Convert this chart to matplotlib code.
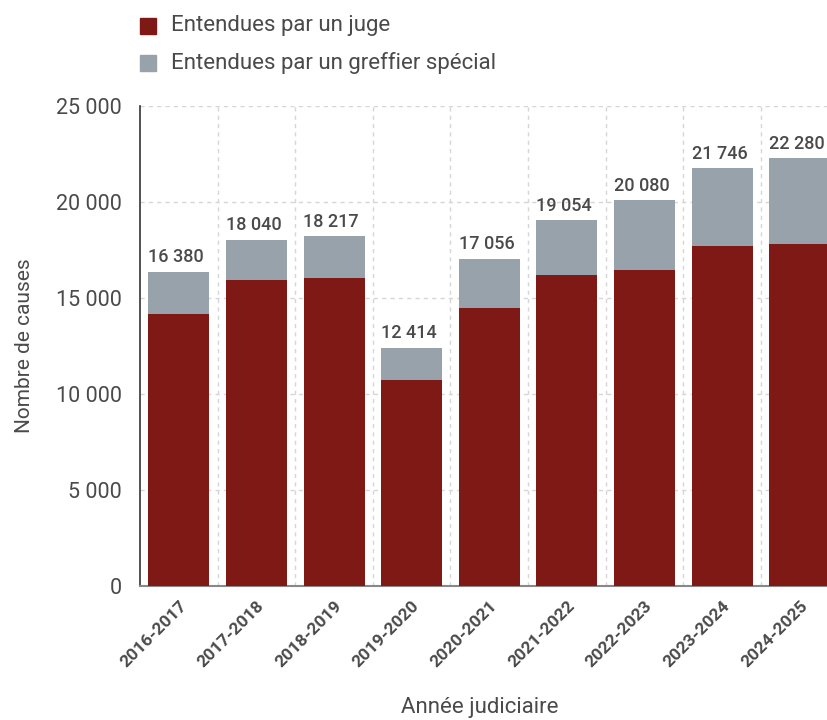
import matplotlib
matplotlib.use("Agg")
import matplotlib.pyplot as plt
from matplotlib.ticker import FixedLocator, FuncFormatter
from matplotlib.patches import Rectangle

years = ["2016-2017", "2017-2018", "2018-2019", "2019-2020", "2020-2021",
         "2021-2022", "2022-2023", "2023-2024", "2024-2025"]
totals = [16380, 18040, 18217, 12414, 17056, 19054, 20080, 21746, 22280]
juge = [14150, 15950, 16050, 10730, 14500, 16200, 16450, 17700, 17800]
greffier = [t - j for t, j in zip(totals, juge)]
legend_labels = ["Entendues par un juge", "Entendues par un greffier spécial"]

RED = "#7f1916"
GRAY = "#98a2aa"
TXT = "#4a4a4a"
FAM = ["Roboto", "DejaVu Sans"]

fig = plt.figure(figsize=(8.28, 7.2), dpi=100)
ax = fig.add_axes([140/828, 1-586/720, (838.6-140)/828, (586-106)/720])

x = list(range(len(years)))
ax.bar(x, juge, width=0.785, color=RED, zorder=3)
ax.bar(x, greffier, bottom=juge, width=0.785, color=GRAY, zorder=3)

for xi, t in zip(x, totals):
    ax.annotate(f"{t:,}".replace(",", " "), (xi, t), xytext=(-2, 4),
                textcoords="offset points", ha="center", va="bottom",
                fontsize=13, fontweight="medium", color=TXT, family=FAM)

ax.set_xlim(-0.5, 8.5)
ax.set_ylim(0, 25000)
ax.yaxis.set_major_locator(FixedLocator([0, 5000, 10000, 15000, 20000, 25000]))
ax.yaxis.set_major_formatter(FuncFormatter(lambda v, p: f"{int(v):,}".replace(",", " ")))
ax.set_xticks(x)
ax.set_xticklabels(years, rotation=45, ha="right", rotation_mode="anchor",
                   fontsize=12.5, fontweight="bold", color=TXT, family=FAM)
ax.tick_params(axis="x", length=0, pad=9)
ax.tick_params(axis="y", length=0, pad=13, labelsize=15.5, labelcolor=TXT)
for lbl in ax.get_yticklabels():
    lbl.set_family(FAM)

ax.xaxis.set_minor_locator(FixedLocator([i + 0.5 for i in range(8)]))
ax.grid(axis="y", which="major", color="#d6d6d6", linestyle=(0, (3, 3)), linewidth=1, zorder=0)
ax.grid(axis="x", which="minor", color="#d6d6d6", linestyle=(0, (3, 3)), linewidth=1, zorder=0)
ax.tick_params(axis="x", which="minor", length=0)

for s in ["top", "right"]:
    ax.spines[s].set_visible(False)
ax.spines["left"].set_color("#333333")
ax.spines["left"].set_linewidth(1.2)
ax.spines["bottom"].set_color("#888888")
ax.spines["bottom"].set_linewidth(1.5)

ax.set_ylabel("Nombre de causes", fontsize=15, color=TXT, family=FAM)
ax.yaxis.set_label_coords(-0.152, 0.5)
fig.text(480/828, 1-707/720, "Année judiciaire", ha="center", va="center",
         fontsize=16, color=TXT, family=FAM)

# legend
for i, (lab, col) in enumerate(zip(legend_labels, [RED, GRAY])):
    yc = 26 + i * 37
    fig.patches.append(Rectangle((140/828, 1-(yc+8)/720), 16/828, 16/720,
                                 transform=fig.transFigure, color=col, figure=fig))
    fig.text(171/828, 1-yc/720, lab, ha="left", va="center", fontsize=16,
             color=TXT, family=FAM)

fig.savefig("out.png", dpi=100)
